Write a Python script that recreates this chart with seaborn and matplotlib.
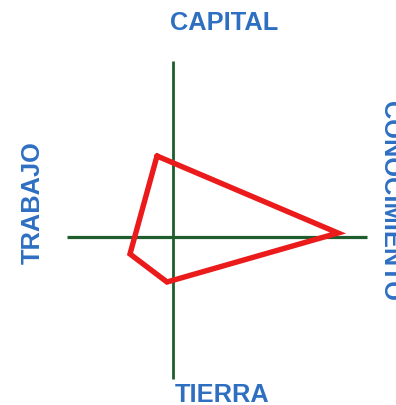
import matplotlib
matplotlib.use("Agg")
import matplotlib.pyplot as plt
import seaborn as sns
import pandas as pd

# Polygon vertices (relative to the axes crossing, y up)
factors = ['CAPITAL', 'CONOCIMIENTO', 'TIERRA', 'TRABAJO']
x_vals = [-16, 165, -6, -43]
y_vals = [81, 4, -45, -17]

# close the shape
df = pd.DataFrame({
    'x': x_vals + x_vals[:1],
    'y': y_vals + y_vals[:1],
    'order': range(len(x_vals) + 1),
})

sns.set_style('white')
plt.rcParams['font.family'] = ['Liberation Sans', 'DejaVu Sans']

fig = plt.figure(figsize=(3.96, 4.06), dpi=100)
ax = fig.add_axes([0, 0, 1, 1])
ax.set_xlim(-173, 223)
ax.set_ylim(-168, 238)

# cross axes
green = '#1d5e2c'
ax.plot([-106, 194], [0, 0], color=green, lw=2.3, solid_capstyle='butt')
ax.plot([0, 0], [-142, 176], color=green, lw=2.0, solid_capstyle='butt')

sns.lineplot(data=df, x='x', y='y', sort=False, color='#ec1b1b', lw=3.9,
             ax=ax, estimator=None)
ax.lines[-1].set_solid_joinstyle('miter')

blue = '#2e6fc2'
kw = dict(color=blue, fontsize=18.3, fontweight='bold', ha='center', va='center')
ax.text(51, 214.5, 'CAPITAL', **kw)
ax.text(49, -157, 'TIERRA', **kw)
ax.text(-140.5, 35, 'TRABAJO', rotation=90, **kw)
ax.text(217, 37, 'CONOCIMIENTO', rotation=-90, **kw)

ax.set_axis_off()
ax.set_xlabel('')
ax.set_ylabel('')
fig.savefig('out.png', dpi=100)
